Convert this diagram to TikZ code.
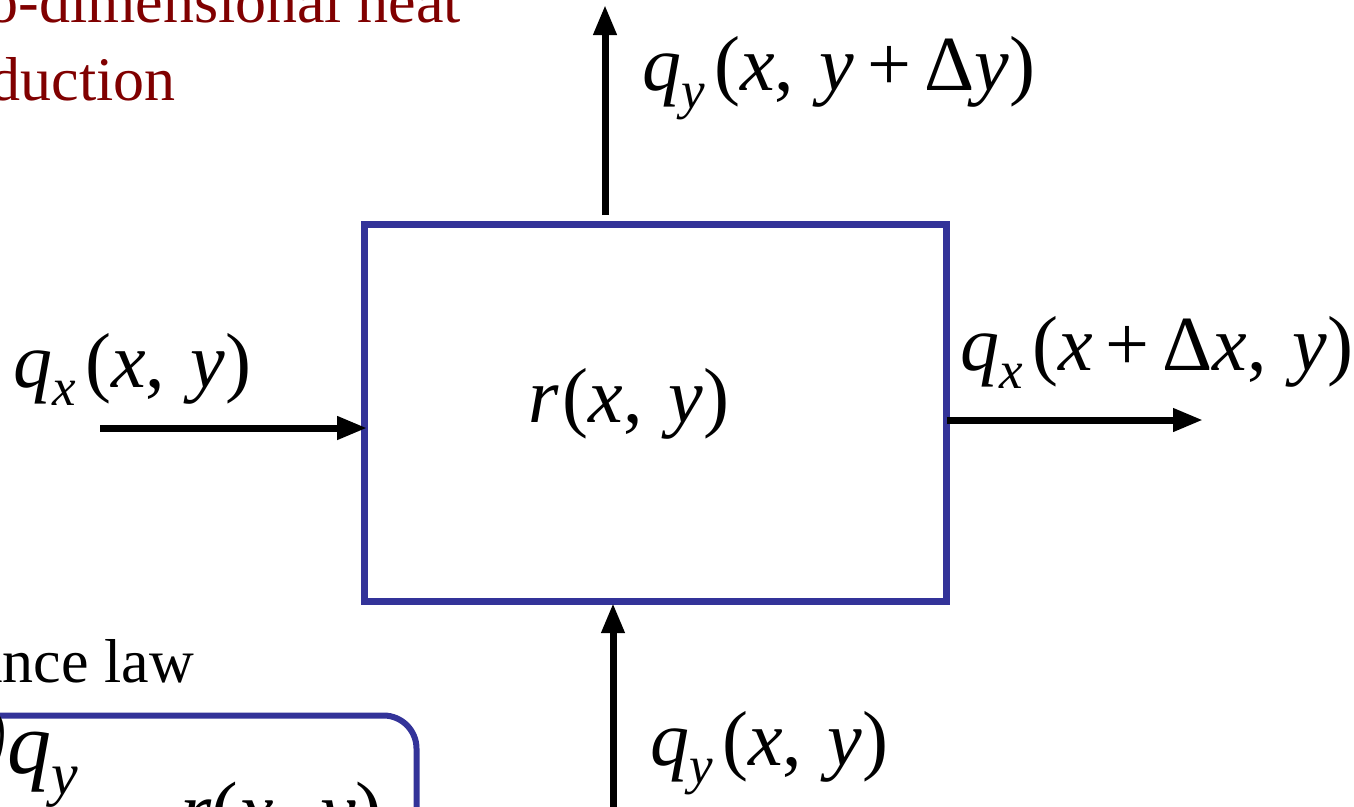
\documentclass[tikz,border=0pt]{standalone}
\usepackage{graphicx}
\usepackage{fontspec}
\setmainfont{Liberation Serif}
\usetikzlibrary{arrows.meta,positioning}
\definecolor{BoxBlue}{HTML}{333399}
\definecolor{TitleRed}{HTML}{800000}
\newcommand{\iv}[1]{\textit{#1\/}}
\newcommand{\flux}[1]{\iv{q}\raisebox{-0.24em}{\scalebox{0.68}{\iv{#1}}}\kern0.12em}
\newcommand{\cs}{,\hspace{0.33em}}
\tikzset{
  cellbox/.style={rectangle,draw=BoxBlue,line width=6.7pt,outer sep=0pt,
                  minimum width=582pt,minimum height=377pt},
  eqbox/.style={rectangle,draw=BoxBlue,line width=6pt,rounded corners=33pt,
                outer sep=0pt,minimum width=516pt,minimum height=285pt},
  arr/.style={-{Triangle[length=30pt,width=22pt]},line width=7pt},
  lbl/.style={inner sep=0pt,anchor=base west,font=\fontsize{78}{92}\selectfont},
  txt/.style={inner sep=0pt,anchor=base east,font=\fontsize{62}{74}\selectfont}
}
\begin{document}
\begin{tikzpicture}[x=1pt,y=-1pt]
  \useasboundingbox (0,0) rectangle (1354,806);
  \clip (0,0) rectangle (1354,806);
  % slide text, cut by the edge
  \node[txt,text=TitleRed] (title1) at (461,22) {Two-dimensional heat};
  \node[txt,text=TitleRed] (title2) at (176,100) {conduction};
  \node[txt] (law) at (194,682) {Balance law};
  % control volume
  \node[cellbox] (cell) at (655.6,413.1) {};
  \node[lbl] (source) at (528,422) {\iv{r}\kern0.05em(\iv{x}\cs\iv{y})};
  % fluxes
  \coordinate (inL) at (100,428);
  \coordinate (outR) at (1203,420);
  \coordinate (outT) at (605,5);
  \coordinate (inB) at (613,820);
  \draw[arr] (inL) -- ([xshift=2.5pt]cell.west |- inL);
  \draw[arr] (cell.east |- outR) -- (outR);
  \draw[arr] ([yshift=9.5pt]cell.north -| outT) -- (outT);
  \draw[arr] (inB) -- ([yshift=-1.5pt]cell.south -| inB);
  \node[lbl] (qxin) at (13,387) {\flux{x}(\iv{x}\cs\iv{y})};
  \node[lbl] (qxout) at (960,370) {\flux{x}(\iv{x}\,+\,Δ\iv{x}\cs\iv{y})};
  \node[lbl] (qyout) at (642,90) {\flux{y}(\iv{x}\cs\iv{y}\,+\,Δ\iv{y})};
  \node[lbl] (qyin) at (650,765) {\flux{y}(\iv{x}\cs\iv{y})};
  % balance equation box
  \node[eqbox] (balance) at (158.5,858) {};
  \node[lbl,anchor=base east,font=\fontsize{88}{100}\selectfont] (dqy) at (89,773) {\iv{∂}\flux{y}};
  \node[lbl,font=\fontsize{80}{96}\selectfont] (rhs) at (180,837) {\iv{r}(\iv{x}\cs\iv{y})};
\end{tikzpicture}
\end{document}
